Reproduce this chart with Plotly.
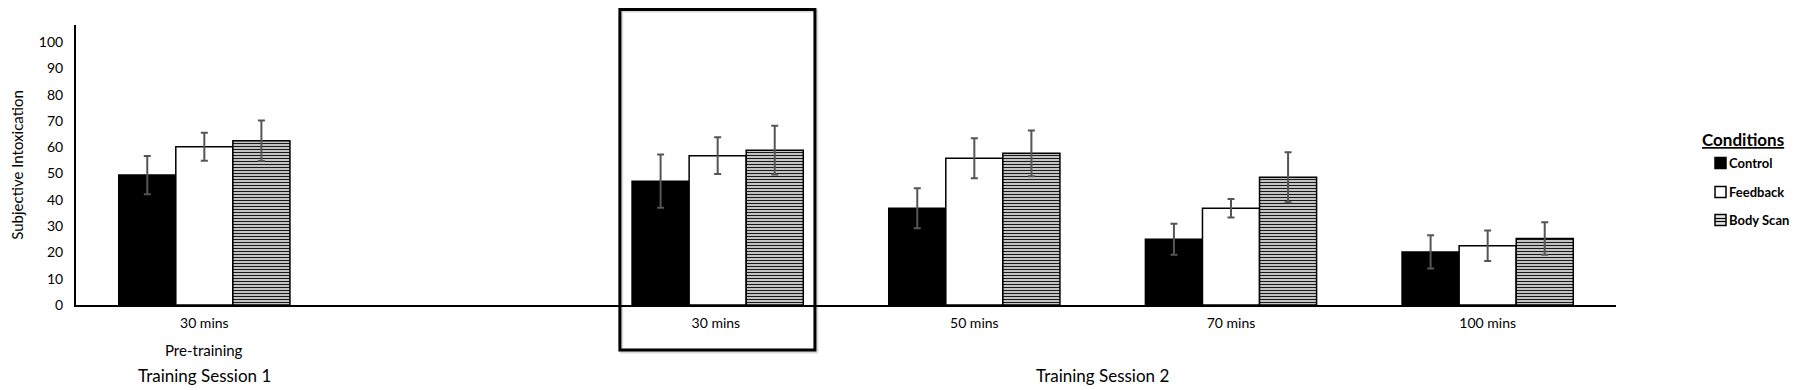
import plotly.graph_objects as go

# ---- data ----
categories = ["30 mins", "", "30 mins ", "50 mins", "70 mins", "100 mins"]
conditions = ["Control", "Feedback", "Body Scan"]
control = [49.4, None, 47.1, 36.8, 25.0, 20.2]
control_err = [7.3, None, 10.1, 7.6, 5.9, 6.3]
feedback = [60.2, None, 56.8, 55.8, 36.8, 22.5]
feedback_err = [5.3, None, 7.0, 7.6, 3.5, 5.8]
bodyscan = [62.5, None, 58.9, 57.7, 48.6, 25.3]
bodyscan_err = [7.7, None, 9.3, 8.7, 9.5, 6.2]
y_ticks = list(range(0, 101, 10))

FONT = "Lato, Calibri, 'Open Sans', sans-serif"
xpos = list(range(len(categories)))

# figure geometry (the page body keeps an 8px margin, so the figure is 8px smaller)
W, H = 1792, 382
ML, MR, MT, MB = 68, 184, 17, 85
PW, PH = W - ML - MR, H - MT - MB


def px(x):  # figure pixel x -> paper
    return (x - ML) / PW


def py(y):  # figure pixel y -> paper
    return (H - MB - y) / PH


fig = go.Figure()

fills = ["black", "white", "#e6e6e6"]
patterns = [None, None, dict(shape="-", size=3, solidity=0.45, fgcolor="#1a1a1a",
                             bgcolor="#e6e6e6", fillmode="replace")]
series = [control, feedback, bodyscan]
errors = [control_err, feedback_err, bodyscan_err]

for name, vals, errs, color, pat in zip(conditions, series, errors, fills, patterns):
    fig.add_trace(go.Bar(
        x=xpos, y=vals, name=name, showlegend=False,
        marker=dict(color=color, line=dict(color="black", width=1.5), pattern=pat),
        error_y=dict(type="data", array=errs, visible=True,
                     color="#555555", thickness=2, width=3.5),
    ))

fig.update_layout(
    width=W, height=H,
    paper_bgcolor="white", plot_bgcolor="white",
    margin=dict(l=ML, r=MR, t=MT, b=MB),
    barmode="group", bargap=0.333, bargroupgap=0,
    font=dict(family=FONT, size=14, color="black"),
    xaxis=dict(
        tickmode="array", tickvals=xpos, ticktext=categories,
        range=[-0.5, len(categories) - 0.5],
        showline=True, linecolor="black", linewidth=2,
        ticks="", showgrid=False, zeroline=False, automargin=False,
        ticklabelstandoff=4,
        tickfont=dict(size=14),
    ),
    yaxis=dict(
        range=[0, 106.5], tickmode="array", tickvals=y_ticks,
        showline=True, linecolor="black", linewidth=2,
        ticks="", showgrid=False, zeroline=False, automargin=False,
        ticklabelstandoff=8,
        title=dict(text="Subjective Intoxication", font=dict(size=15), standoff=22),
        tickfont=dict(size=14),
    ),
)

# highlight box around the Session 2 / 30 mins group
fig.add_shape(type="rect", xref="x", yref="paper",
              x0=1.626, x1=2.386, y0=-0.168, y1=py(3),
              line=dict(color="rgba(0,0,0,0.15)", width=3), layer="below")
fig.add_shape(type="rect", xref="x", yref="paper",
              x0=1.619, x1=2.379, y0=-0.161, y1=py(1.5),
              line=dict(color="black", width=3))

fig.add_annotation(text="Pre-training", x=0, xref="x", y=-0.161, yref="paper",
                   showarrow=False, font=dict(size=15), yanchor="middle")
fig.add_annotation(text="Training Session 1", x=0, xref="x", y=-0.25, yref="paper",
                   showarrow=False, font=dict(size=17), yanchor="middle")
fig.add_annotation(text="Training Session 2", x=3.5, xref="x", y=-0.253, yref="paper",
                   showarrow=False, font=dict(size=17), yanchor="middle")

# ---- legend (drawn by hand so that it stays in the right margin) ----
fig.add_annotation(text="<b><u>Conditions</u></b>", x=px(1692), y=py(131),
                   xref="paper", yref="paper", xanchor="left", yanchor="middle",
                   showarrow=False, font=dict(size=17))
item_y = [155, 184, 212]
for name, color, yy in zip(conditions, fills, item_y):
    fig.add_shape(type="rect", xref="paper", yref="paper",
                  x0=px(1707), x1=px(1718), y0=py(yy + 5.5), y1=py(yy - 5.5),
                  fillcolor=color, line=dict(color="black", width=1.5))
    fig.add_annotation(text="<b>" + name + "</b>", x=px(1719), y=py(yy),
                       xref="paper", yref="paper", xanchor="left", yanchor="middle",
                       showarrow=False, font=dict(size=13))
for dy in (-1.5, 1.5):
    yb = item_y[2] + dy
    fig.add_shape(type="line", xref="paper", yref="paper",
                  x0=px(1707), x1=px(1718), y0=py(yb), y1=py(yb),
                  line=dict(color="black", width=1.2))

fig.write_html("out.html")
